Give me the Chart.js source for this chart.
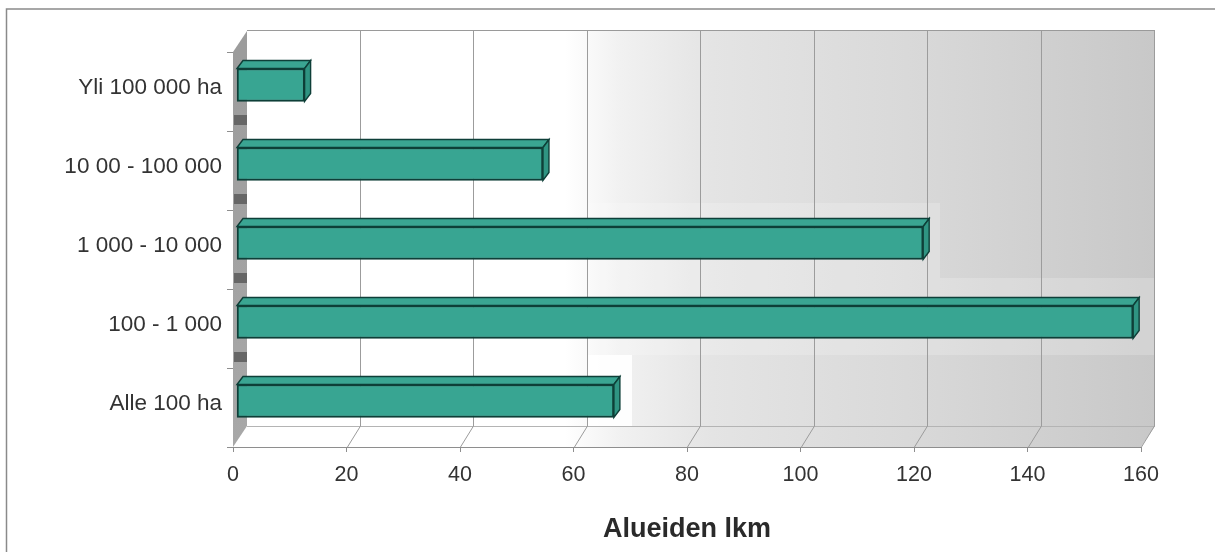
<!DOCTYPE html>
<html>
<head>
<meta charset="utf-8">
<style>html,body{margin:0;padding:0;background:#fff}#w{position:relative;width:1215px;height:552px}</style>
<script src="https://cdn.jsdelivr.net/npm/chart.js@4"></script>
</head>
<body>
<div id="w"><canvas id="c" width="1215" height="552"></canvas></div>
<script>
const categories = ["Yli 100 000 ha", "10 00 - 100 000", "1 000 - 10 000", "100 - 1 000", "Alle 100 ha"];
const counts = [12, 54, 121, 158, 66.5];
const xTicks = [0, 20, 40, 60, 80, 100, 120, 140, 160];
const axisTitle = "Alueiden lkm";

const wallDx = 14, wallDy = 21;
const barShift = {x: 3.5, y: -6.5};
const barDepth = {x: 6, y: 8};

function poly(ctx, pts, fill, stroke, lw) {
  ctx.beginPath();
  pts.forEach((p, i) => i ? ctx.lineTo(p[0], p[1]) : ctx.moveTo(p[0], p[1]));
  ctx.closePath();
  if (fill) { ctx.fillStyle = fill; ctx.fill(); }
  if (stroke) { ctx.strokeStyle = stroke; ctx.lineWidth = lw || 1; ctx.stroke(); }
}

const frame3d = {
  id: 'frame3d',
  beforeDraw(chart) {
    const {ctx, chartArea: a, scales: {x, y}} = chart;
    ctx.save();
    ctx.strokeStyle = '#8a8a8a'; ctx.lineWidth = 1.5;
    ctx.beginPath(); ctx.moveTo(6.5, 552); ctx.lineTo(6.5, 9); ctx.lineTo(1215, 9); ctx.stroke();
    const g = ctx.createLinearGradient(a.left, 0, a.right + wallDx, 0);
    g.addColorStop(0, '#ffffff');
    g.addColorStop(0.36, '#ffffff');
    g.addColorStop(0.42, '#f1f1f1');
    g.addColorStop(0.52, '#e4e4e4');
    g.addColorStop(0.75, '#d8d8d8');
    g.addColorStop(1, '#c8c8c8');
    poly(ctx, [[a.left + wallDx, a.top - wallDy - 1], [a.right + wallDx, a.top - wallDy - 1], [a.right + wallDx, a.bottom - wallDy], [a.right, a.bottom], [a.left, a.bottom]], g);
    // paler scanned patches on the wall
    ctx.fillStyle = 'rgba(255,255,255,0.2)';
    ctx.fillRect(587, 203, 353, 75);
    ctx.fillRect(587, 278, 568, 77);
    ctx.fillStyle = 'rgba(255,255,255,0.9)';
    ctx.fillRect(587, 355, 45, 71);
    const lw = ctx.createLinearGradient(0, a.top, 0, a.bottom);
    lw.addColorStop(0, '#9c9c9c'); lw.addColorStop(1, '#a8a8a8');
    poly(ctx, [[a.left, a.top], [a.left + wallDx, a.top - wallDy], [a.left + wallDx, a.bottom - wallDy], [a.left, a.bottom]], lw);
    ctx.fillStyle = '#666666';
    for (let i = 0; i < categories.length - 1; i++) {
      const b = (y.getPixelForValue(i) + y.getPixelForValue(i + 1)) / 2;
      ctx.fillRect(a.left + 1, b - 16, wallDx - 1, 10);
    }
    ctx.strokeStyle = '#9a9a9a'; ctx.lineWidth = 1;
    ctx.beginPath(); ctx.moveTo(a.left + wallDx, a.top - wallDy - .5); ctx.lineTo(a.right + wallDx, a.top - wallDy - .5); ctx.stroke();
    ctx.strokeStyle = '#b4b4b4'; ctx.lineWidth = 1;
    ctx.beginPath(); ctx.moveTo(a.left + wallDx, a.bottom - wallDy + .5); ctx.lineTo(a.right + wallDx, a.bottom - wallDy + .5); ctx.stroke();
    xTicks.forEach(v => {
      if (v === 0) return;
      const px = Math.round(x.getPixelForValue(v));
      ctx.strokeStyle = '#9c9c9c'; ctx.lineWidth = 1;
      ctx.beginPath();
      ctx.moveTo(px + wallDx - .5, a.top - wallDy);
      ctx.lineTo(px + wallDx - .5, a.bottom - wallDy);
      ctx.lineTo(px + .5, a.bottom);
      ctx.stroke();
    });
    ctx.strokeStyle = '#8e8e8e'; ctx.lineWidth = 1;
    ctx.beginPath(); ctx.moveTo(a.left - 6, a.bottom + .5); ctx.lineTo(a.right, a.bottom + .5); ctx.stroke();
    ctx.restore();
  },
  beforeDatasetDraw(chart) {
    const {ctx} = chart;
    ctx.save();
    ctx.translate(barShift.x, barShift.y);
    chart.getDatasetMeta(0).data.forEach(b => {
      const t = b.y - b.height / 2, h = b.height, r = b.x, l = b.base;
      const dk = '#0e3f38';
      poly(ctx, [[l, t], [l + barDepth.x, t - barDepth.y], [r + barDepth.x, t - barDepth.y], [r, t]], '#3aa592', dk, 1.4);
      poly(ctx, [[r, t], [r + barDepth.x, t - barDepth.y], [r + barDepth.x, t + h - barDepth.y], [r, t + h]], '#2f9482', dk, 1.4);
    });
  },
  afterDatasetDraw(chart) {
    chart.ctx.restore();
  }
};

new Chart(document.getElementById('c'), {
  type: 'bar',
  data: {
    labels: categories,
    datasets: [{
      data: counts,
      backgroundColor: '#38a592',
      borderColor: '#0e3f38',
      borderWidth: 2,
      barThickness: 33,
      borderSkipped: false
    }]
  },
  options: {
    indexAxis: 'y',
    responsive: false,
    animation: false,
    layout: {padding: {top: 52, right: 74, left: 0, bottom: 0}},
    plugins: {legend: {display: false}, tooltip: {enabled: false}},
    scales: {
      x: {
        min: 0, max: 160,
        afterBuildTicks(s) { s.ticks = xTicks.map(v => ({value: v})); },
        afterFit(s) { s.height = 105; },
        grid: {drawOnChartArea: false, drawTicks: true, tickLength: 5, tickColor: '#8e8e8e', tickWidth: 1},
        border: {display: false},
        ticks: {color: '#333333', font: {family: 'Liberation Sans', size: 21.5}, padding: 10, maxRotation: 0, autoSkip: false},
        title: {display: true, text: axisTitle, color: '#2a2a2a', font: {family: 'Liberation Sans', size: 27, weight: 'bold'}, padding: {top: 24, bottom: 6}}
      },
      y: {
        afterFit(s) { s.width = 233; },
        grid: {drawOnChartArea: false, drawTicks: true, tickLength: 6, tickColor: '#8e8e8e', tickWidth: 1},
        border: {display: false},
        ticks: {color: '#333333', font: {family: 'Liberation Sans', size: 22.5}, padding: 5, labelOffset: -4, autoSkip: false}
      }
    }
  },
  plugins: [frame3d]
});
</script>
</body>
</html>
